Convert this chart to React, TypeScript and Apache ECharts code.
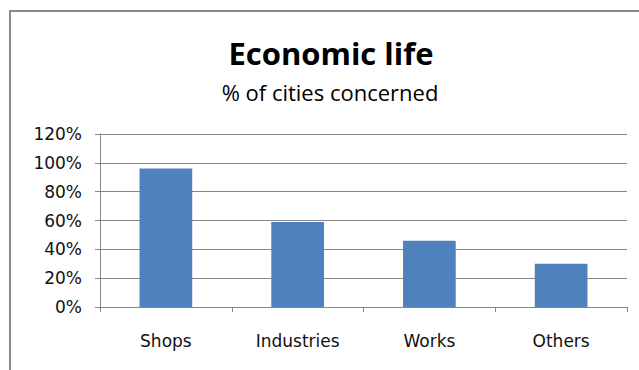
import React, { useEffect, useRef } from "react";
import * as echarts from "echarts";

const categories = ["Shops", "Industries", "Works", "Others"];
const values = [96, 59, 46, 30];
const titleText = "Economic life";
const subtitleText = "% of cities concerned";

export default function App() {
  const ref = useRef<HTMLDivElement>(null);
  useEffect(() => {
    if (!ref.current) return;
    const chart = echarts.init(ref.current, undefined, { renderer: "svg" });
    chart.setOption({
      animation: false,
      backgroundColor: "#ffffff",
      title: [
        {
          text: titleText,
          left: 331,
          top: 37,
          padding: 0,
          textAlign: "center",
          textStyle: {
            fontFamily: "Open Sans",
            fontWeight: "bold",
            fontSize: 31,
            lineHeight: 32,
            color: "#000000",
          },
        },
        {
          text: subtitleText,
          left: 330,
          top: 79.5,
          padding: 0,
          textAlign: "center",
          textStyle: {
            fontFamily: "Open Sans",
            fontWeight: "normal",
            fontSize: 22,
            lineHeight: 24,
            color: "#000000",
          },
        },
      ],
      graphic: [
        {
          type: "rect",
          shape: { x: 10, y: 11, width: 700, height: 500 },
          style: { fill: "none", stroke: "#8a8a8a", lineWidth: 2 },
          silent: true,
          z: -1,
        },
      ],
      grid: { left: 100, top: 134, width: 527, height: 173, containLabel: false },
      xAxis: {
        type: "category",
        data: categories,
        axisLine: { show: true, lineStyle: { color: "#868686", width: 1 } },
        axisTick: { show: true, length: 5, alignWithLabel: false, lineStyle: { color: "#868686" } },
        axisLabel: {
          margin: 25,
          fontFamily: "DejaVu Sans",
          fontSize: 17,
          color: "#111111",
        },
      },
      yAxis: {
        type: "value",
        min: 0,
        max: 120,
        interval: 20,
        axisLine: { show: true, lineStyle: { color: "#868686", width: 1 } },
        axisTick: { show: true, length: 5, lineStyle: { color: "#868686" } },
        splitLine: { show: true, lineStyle: { color: "#868686", width: 1 } },
        axisLabel: {
          margin: 18,
          formatter: "{value}%",
          fontFamily: "DejaVu Sans",
          fontSize: 17,
          color: "#111111",
        },
      },
      series: [
        {
          type: "bar",
          data: values,
          barCategoryGap: "60%",
          itemStyle: { color: "#4f81bd" },
        },
      ],
    });
    return () => chart.dispose();
  }, []);
  return (
    <div
      ref={ref}
      style={{ position: "fixed", left: 0, top: 0, width: 639, height: 370 }}
    />
  );
}
